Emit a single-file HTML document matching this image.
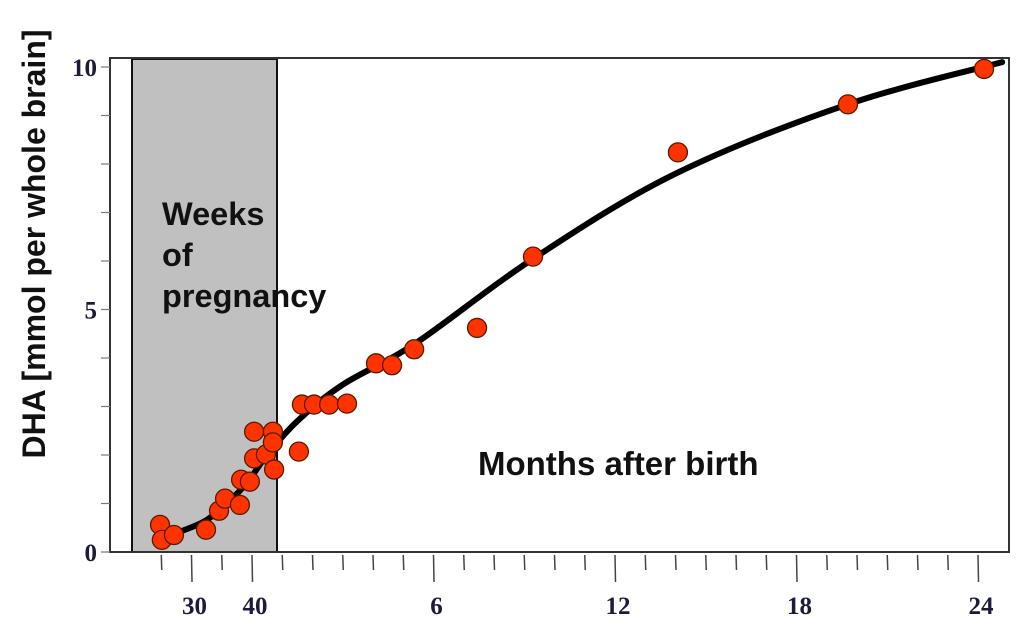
<!DOCTYPE html>
<html><head><meta charset="utf-8"><style>
html,body{margin:0;padding:0;background:#fff;}
svg{display:block;}
</style></head><body>
<svg id="chart" width="1024" height="627" viewBox="0 0 1024 627" xmlns="http://www.w3.org/2000/svg">
<rect x="0" y="0" width="1024" height="627" fill="#fff"/>
<g id="frame"></g>
<g id="ticks"></g>
<g id="curve"></g>
<g id="points"></g>
<text x="162" y="225" font-family="Liberation Sans, sans-serif" font-weight="bold" font-size="32.5" fill="#111"><tspan x="162">Weeks</tspan><tspan x="162" dy="41">of</tspan><tspan x="162" dy="41">pregnancy</tspan></text>
<text x="478" y="475" font-family="Liberation Sans, sans-serif" font-weight="bold" font-size="33" fill="#111">Months after birth</text>
<text transform="translate(45,244) rotate(-90)" text-anchor="middle" font-family="Liberation Sans, sans-serif" font-weight="bold" font-size="32" fill="#111">DHA [mmol per whole brain]</text>
</svg>
<script>
// x values: months relative to birth (prenatal weeks w -> (w-40)/5)
const ptX = [-3.04,-2.98,-2.58,-1.52,-1.09,-0.89,-0.40,-0.36,-0.07,0.07,0.07,0.46,0.69,0.69,0.73,1.55,1.65,2.05,2.55,3.14,4.10,4.63,5.36,7.44,9.29,14.08,19.70,24.2];
const ptY = [0.56,0.25,0.35,0.46,0.85,1.10,0.97,1.49,1.45,1.93,2.48,2.01,2.48,2.26,1.70,2.07,3.04,3.04,3.04,3.06,3.89,3.85,4.18,4.62,6.09,8.24,9.23,9.96];
const fitX = [-2.6,-1.5,-0.5,0,0.5,1.5,3,5.4,9.3,14,19.7,24.8];
const fitY = [0.37,0.66,1.2,1.57,2.0,2.7,3.45,4.3,6.05,7.8,9.23,10.1];
const xTickPos = [-3,-2,-1,0,1,2,3,4,5,6,7,8,9,10,11,12,13,14,15,16,17,18,19,20,21,22,23,24];
const xLabelPos = [-2,0,6,12,18,24];
const xLabelText = ["30","40","6","12","18","24"];
const yTickVals = [0,1,2,3,4,5,6,7,8,9,10];
const yLabelVals = [0,5,10];

const NS="http://www.w3.org/2000/svg";
const X0=252, XU=30.25, Y0=552, YU=48.5;
function xs(m){return X0+XU*m;}
function ys(v){return Y0-YU*v;}
function mk(tag,attrs,parent){const e=document.createElementNS(NS,tag);for(const k in attrs)e.setAttribute(k,attrs[k]);parent.appendChild(e);return e;}

const frame=document.getElementById('frame');
let r=mk('rect',{x:132,y:59,width:145,height:493,fill:'#c0c0c0',stroke:'#111','stroke-width':2},frame);


let pf=mk('path',{d:'M110 552 L110 58 L1009 58 L1009 552 Z',fill:'none',stroke:'#333','stroke-width':2},frame);



const ticks=document.getElementById('ticks');
xTickPos.forEach(m=>{
  const long=xLabelPos.indexOf(m)>=0;
  const t=mk('line',{x1:xs(m),x2:xs(m)+0.5,y1:555,y2:long?582:570,stroke:'#444','stroke-width':1.5},ticks);
  
  
});
xLabelPos.forEach((m,i)=>{
  const t=mk('text',{x:xs(m)+3,y:614,'text-anchor':'middle','font-family':'Liberation Serif, serif','font-weight':'bold','font-size':25,fill:'#1c1c3a'},ticks);
  t.textContent=xLabelText[i];
  
  
});
yTickVals.forEach(v=>{
  const t=mk('line',{x1:101,x2:110,y1:ys(v),y2:ys(v),stroke:'#777','stroke-width':1.2},ticks);
  
  
});
yLabelVals.forEach(v=>{
  const t=mk('text',{x:97,y:ys(v)+9,'text-anchor':'end','font-family':'Liberation Serif, serif','font-weight':'bold','font-size':25,fill:'#1c1c3a'},ticks);
  t.textContent=String(v);
  
  
});

// smooth fitted curve (Catmull-Rom)
const P=fitX.map((x,i)=>[xs(x),ys(fitY[i])]);
let d='M'+P[0][0]+' '+P[0][1];
for(let i=0;i<P.length-1;i++){
  const p0=P[Math.max(0,i-1)],p1=P[i],p2=P[i+1],p3=P[Math.min(P.length-1,i+2)];
  const c1=[p1[0]+(p2[0]-p0[0])/6,p1[1]+(p2[1]-p0[1])/6];
  const c2=[p2[0]-(p3[0]-p1[0])/6,p2[1]-(p3[1]-p1[1])/6];
  d+=' C'+c1[0]+' '+c1[1]+' '+c2[0]+' '+c2[1]+' '+p2[0]+' '+p2[1];
}
const cv=mk('path',{d:d,fill:'none',stroke:'#000','stroke-width':6,'stroke-linecap':'round'},document.getElementById('curve'));



const pts=document.getElementById('points');
ptX.forEach((x,i)=>{
  const c=mk('circle',{cx:xs(x),cy:ys(ptY[i]),r:9.5,fill:'#ff3300',stroke:'#5a1a00','stroke-width':1.3},pts);
  
  
});
</script>
</body></html>
